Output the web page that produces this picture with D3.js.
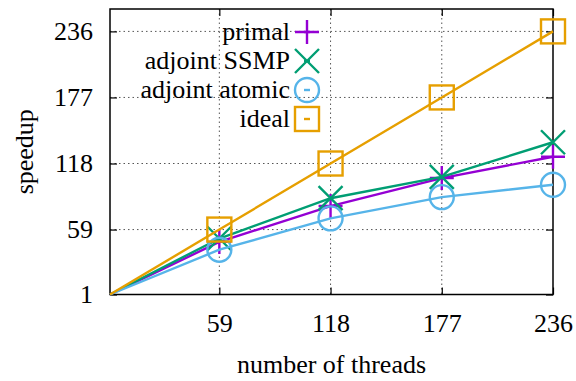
<!DOCTYPE html>
<html><head><meta charset="utf-8">
<script src="https://cdn.jsdelivr.net/npm/d3@7"></script>
<style>body{margin:0;background:#fff}svg{display:block}text{font-family:"Liberation Serif","Times New Roman",serif;fill:#000}</style>
</head><body>
<svg id="c" width="576" height="381"></svg>
<script>
const threads = [1, 59, 118, 177, 236];
const primal = [1, 48, 80, 105, 124];
const ssmp = [1, 51, 87, 106, 137];
const atomic = [1, 41, 69, 88, 99];
const ideal = [1, 59, 118, 177, 236];
const xTicks = [59, 118, 177, 236];
const yTicks = [1, 59, 118, 177, 236];
const seriesNames = ["primal", "adjoint SSMP", "adjoint atomic", "ideal"];
const seriesColors = ["#9400d3", "#009e73", "#56b4e9", "#e69f00"];
const seriesShapes = ["plus", "cross", "circle", "square"];
const seriesData = [primal, ssmp, atomic, ideal];

const FS = 26;
const svg = d3.select("#c");
const L = 110, R = 553, T = 9, B = 294.5;
const x = d3.scaleLinear().domain([1, 236]).range([L, R]);
const y = d3.scaleLinear().domain([1, 256]).range([B, T]);

// grid
const g = svg.append("g");
g.selectAll(".gx").data(xTicks.filter(d => d < 236)).enter().append("line")
  .attr("x1", d => x(d)).attr("x2", d => x(d)).attr("y1", T).attr("y2", B)
  .attr("stroke", "#555").attr("stroke-width", 1).attr("stroke-dasharray", "1.5,3");
g.selectAll(".gy").data(yTicks.filter(d => d > 1)).enter().append("line")
  .attr("y1", d => y(d)).attr("y2", d => y(d)).attr("x1", L).attr("x2", R)
  .attr("stroke", "#555").attr("stroke-width", 1).attr("stroke-dasharray", "1.5,3");

// axes with inward ticks
const xAxB = d3.axisBottom(x).tickValues(xTicks).tickSize(-7).tickPadding(19).tickFormat(d3.format("d"));
const xAxT = d3.axisTop(x).tickValues(xTicks).tickSize(-7).tickFormat("");
const yAxL = d3.axisLeft(y).tickValues(yTicks).tickSize(-7).tickPadding(17).tickFormat(d3.format("d"));
const yAxR = d3.axisRight(y).tickValues(yTicks).tickSize(-7).tickFormat("");
function styleAx(sel){ sel.select(".domain").remove(); sel.selectAll("line").attr("stroke","#000").attr("stroke-width",1.2); sel.selectAll("text").attr("font-size",FS).attr("font-family","Liberation Serif"); }
svg.append("g").attr("transform",`translate(0,${B})`).call(xAxB).call(styleAx);
svg.append("g").attr("transform",`translate(0,${T})`).call(xAxT).call(styleAx);
svg.append("g").attr("transform",`translate(${L},0)`).call(yAxL).call(styleAx);
svg.append("g").attr("transform",`translate(${R},0)`).call(yAxR).call(styleAx);

// frame
svg.append("rect").attr("x",L).attr("y",T).attr("width",R-L).attr("height",B-T)
  .attr("fill","none").attr("stroke","#000").attr("stroke-width",1.5);

function marker(sel, shape, cx, cy, color){
  const s = 12;
  if (shape === "plus") {
    sel.append("path").attr("d",`M${cx-s},${cy}H${cx+s}M${cx},${cy-s}V${cy+s}`).attr("stroke",color).attr("stroke-width",2.4).attr("fill","none");
  } else if (shape === "cross") {
    sel.append("path").attr("d",`M${cx-s},${cy-s}L${cx+s},${cy+s}M${cx-s},${cy+s}L${cx+s},${cy-s}`).attr("stroke",color).attr("stroke-width",2.4).attr("fill","none");
  } else if (shape === "circle") {
    sel.append("circle").attr("cx",cx).attr("cy",cy).attr("r",s).attr("stroke",color).attr("stroke-width",2.4).attr("fill","none");
  } else {
    sel.append("rect").attr("x",cx-s).attr("y",cy-s).attr("width",2*s).attr("height",2*s).attr("stroke",color).attr("stroke-width",2.4).attr("fill","none");
  }
}

const line = d3.line().x((d,i) => x(threads[i])).y(d => y(d));
seriesData.forEach((vals, k) => {
  const sg = svg.append("g");
  sg.append("path").datum(vals).attr("d", line).attr("fill","none").attr("stroke",seriesColors[k]).attr("stroke-width",2.4);
  vals.forEach((v,i) => { if (i > 0) marker(sg, seriesShapes[k], x(threads[i]), y(v), seriesColors[k]); });
});

// legend
const legX = 290, legM = 307, legY0 = 32, legDy = 29;
seriesNames.forEach((n,k) => {
  const cy = legY0 + k*legDy;
  svg.append("text").attr("x",legX).attr("y",cy).attr("dy","0.3em").attr("text-anchor","end").attr("font-size",FS).text(n);
  svg.append("line").attr("x1",legM-3).attr("x2",legM+3).attr("y1",cy).attr("y2",cy).attr("stroke",seriesColors[k]).attr("stroke-width",2.4);
  marker(svg, seriesShapes[k], legM, cy, seriesColors[k]);
});

// axis titles
svg.append("text").attr("x",(L+R)/2).attr("y",373).attr("text-anchor","middle").attr("font-size",FS).text("number of threads");
svg.append("text").attr("transform",`translate(33,${(T+B)/2}) rotate(-90)`).attr("text-anchor","middle").attr("font-size",FS).text("speedup");
</script>
</body></html>
